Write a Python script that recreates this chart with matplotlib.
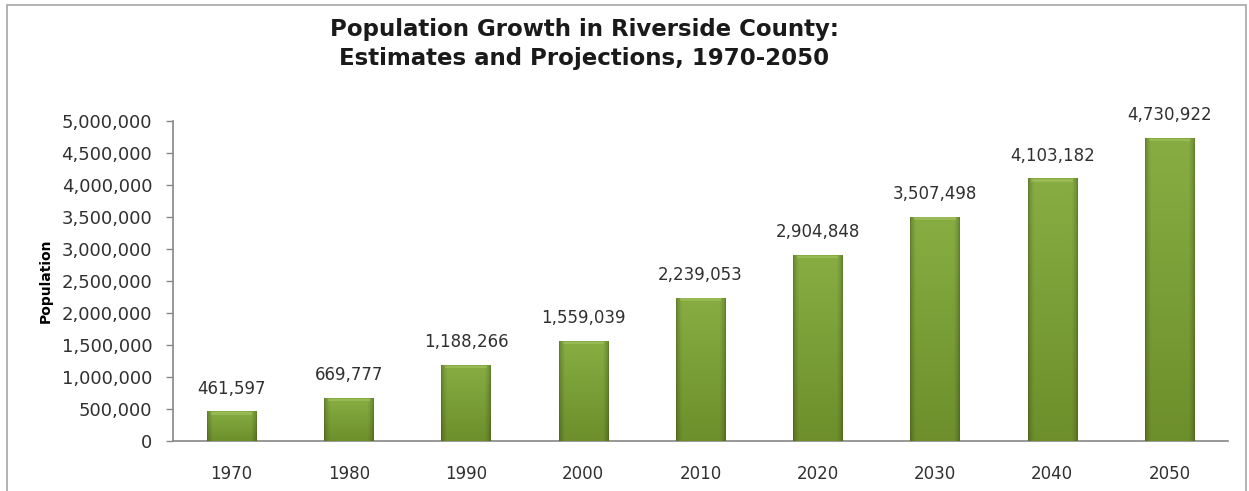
import matplotlib
matplotlib.use("Agg")
import matplotlib.pyplot as plt
import numpy as np
from matplotlib.patches import Rectangle
from matplotlib.ticker import FuncFormatter

# 数据
years = ["1970", "1980", "1990", "2000", "2010", "2020", "2030", "2040", "2050"]
population = [461597, 669777, 1188266, 1559039, 2239053, 2904848, 3507498, 4103182, 4730922]
y_ticks = [0, 500000, 1000000, 1500000, 2000000, 2500000, 3000000, 3500000, 4000000, 4500000, 5000000]

title = "Population Growth in Riverside County:\nEstimates and Projections, 1970-2050"

plt.rcParams["font.family"] = ["DejaVu Sans"]

fig = plt.figure(figsize=(12.49, 4.91), dpi=100)
fig.patch.set_facecolor("white")

# 外框
fig.patches.append(Rectangle((7 / 1249, -0.1), 1239 / 1249, 1.1 - 5 / 491,
                             transform=fig.transFigure, fill=False,
                             edgecolor="#a6a6a6", linewidth=1.2))

ax = fig.add_axes([173 / 1249, 50 / 491, 1055 / 1249, 320 / 491])

x = np.arange(len(years))
bars = ax.bar(x, population, width=0.42, color="#77933C", zorder=2)


def gradient_rgb(nx=60, ny=100):
    # 横向: 边缘暗; 纵向: 顶部亮, 底部暗
    u = np.linspace(0, 1, nx)
    edge = np.clip(np.minimum(u, 1 - u) / 0.12, 0, 1) ** 0.6
    horiz = 0.72 + 0.28 * edge
    v = np.linspace(0, 1, ny)[:, None]  # 0 = 顶部
    top = np.array([0.53, 0.68, 0.26])
    bottom = np.array([0.43, 0.56, 0.17])
    base = top + (bottom - top) * v[..., None]
    img = base * horiz[None, :, None]
    return np.clip(img, 0, 1)


grad = gradient_rgb()
for b in bars:
    bx, bw, bh = b.get_x(), b.get_width(), b.get_height()
    im = ax.imshow(grad, extent=(bx, bx + bw, 0, bh), aspect="auto",
                   origin="upper", zorder=3, interpolation="bilinear")
    im.set_clip_path(b)
    # 顶部高光
    ax.add_patch(Rectangle((bx + bw * 0.08, bh - 5e4), bw * 0.84, 4e4,
                           facecolor="#a9c86a", edgecolor="none", alpha=0.5, zorder=4))

for xi, val in zip(x, population):
    ax.annotate(f"{val:,}", (xi, val), xytext=(0, 10), textcoords="offset points",
                ha="center", va="bottom", fontsize=12, color="#303030")

ax.set_xlim(-0.5, len(years) - 0.5)
ax.set_ylim(0, 5000000)
ax.set_yticks(y_ticks)
ax.yaxis.set_major_formatter(FuncFormatter(lambda v, p: f"{int(v):,}"))
ax.set_xticks(x)
ax.set_xticklabels(years)

for s in ["top", "right"]:
    ax.spines[s].set_visible(False)
for s in ["left", "bottom"]:
    ax.spines[s].set_color("#868686")
    ax.spines[s].set_linewidth(1.2)

ax.tick_params(axis="y", length=5, width=1, color="#868686", pad=10,
               labelsize=13, labelcolor="#303030")
ax.tick_params(axis="x", length=0, pad=17, labelsize=12, labelcolor="#303030")

ax.set_ylabel("Population", fontsize=10, fontweight="bold")
ax.yaxis.set_label_coords(-0.114, 0.5)

fig.text(584 / 1249, 1 - 44 / 491, title, ha="center", va="center",
         fontsize=16.5, fontweight="bold", color="#1a1a1a", linespacing=1.3)

fig.savefig("out.png", dpi=100)
